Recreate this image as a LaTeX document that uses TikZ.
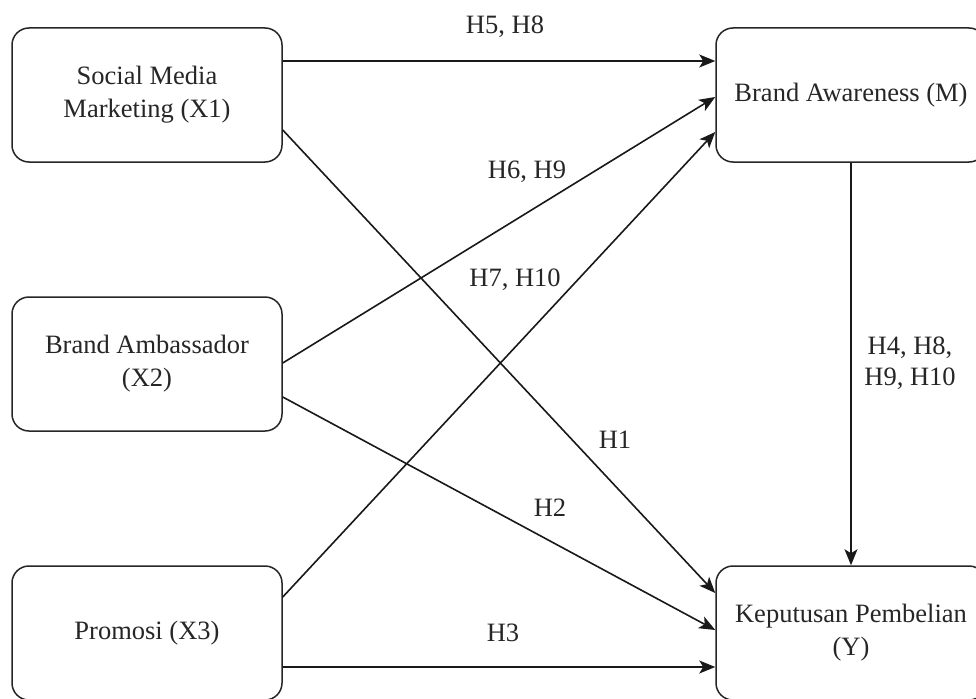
\documentclass[tikz,border=0pt]{standalone}
\usepackage{fontspec}
\setmainfont{Liberation Serif}
\usetikzlibrary{arrows.meta}
\begin{document}
\begin{tikzpicture}[x=1pt,y=-1pt,
  box/.style={draw=black!85, line width=1.5pt, rounded corners=17pt, minimum width=270pt, minimum height=134pt, align=center, font=\fontsize{26.5}{33}\selectfont, text=black!85, inner sep=0pt},
  lbl/.style={font=\fontsize{26.5}{31}\selectfont, text=black!85, align=center, inner sep=0pt},
  arr/.style={draw=black!90, line width=1.6pt, -{Stealth[length=16pt,width=13pt,inset=4pt]}}]
\path[use as bounding box, clip] (0,0) rectangle (976,698);
\fill[white] (0,0) rectangle (976,698);
\node[box] (X1) at (147,95) {Social Media\\Marketing (X1)};
\node[box] (X2) at (147,364) {Brand Ambassador\\(X2)};
\node[box] (X3) at (147,633) {Promosi (X3)};
\node[box] (M) at (851,95) {Brand Awareness (M)};
\node[box] (Y) at (851,633) {Keputusan Pembelian\\(Y)};
\draw[arr] ([yshift=34pt]X1.east) -- ([yshift=34pt]M.west);
\draw[arr] ([yshift=-35pt]X1.east) -- ([yshift=40pt]Y.west);
\draw[arr] ([yshift=1pt]X2.east) -- ([yshift=-2pt]M.west);
\draw[arr] ([yshift=-33pt]X2.east) -- ([yshift=3pt]Y.west);
\draw[arr] ([yshift=36pt]X3.east) -- ([yshift=-37pt]M.west);
\draw[arr] ([yshift=-34pt]X3.east) -- ([yshift=-34pt]Y.west);
\draw[arr] (M.south) -- (Y.north);
\node[lbl] (l58) at (505,27) {H5, H8};
\node[lbl] (l69) at (527,172) {H6, H9};
\node[lbl] (l710) at (515,280) {H7, H10};
\node[lbl] (l1) at (615,440) {H1};
\node[lbl] (l2) at (550,508) {H2};
\node[lbl] (l3) at (503,633) {H3};
\node[lbl] (l4) at (910,363) {H4, H8,\\H9, H10};
\end{tikzpicture}
\end{document}
